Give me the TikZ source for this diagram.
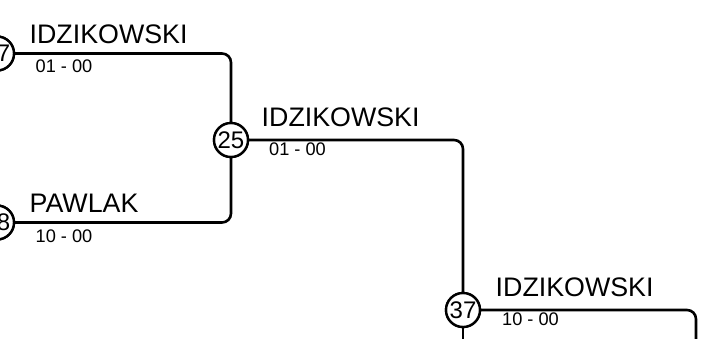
\documentclass[tikz,border=0pt]{standalone}
\usepackage{fontspec}
\setmainfont{Liberation Sans}
\begin{document}
\begin{tikzpicture}[x=1pt,y=-1pt,
  seed/.style={circle,draw,line width=2.4pt,fill=white,minimum size=34pt,inner sep=0pt,font=\fontsize{24}{26}\selectfont},
  link/.style={line width=2.6pt,rounded corners=9pt},
  player/.style={anchor=base west,inner sep=0pt,font=\fontsize{26.8}{30}\selectfont},
  score/.style={anchor=base west,inner sep=0pt,font=\fontsize{18.2}{20}\selectfont}]
\useasboundingbox (0,0) rectangle (715,338);
\node[seed] (c7) at (-3,53.5) {\phantom{0}7};
\node[seed] (c8) at (-3,222.5) {\phantom{0}8};
\node[seed] (c25) at (231,140) {25};
\node[seed] (c37) at (463,310) {37};
\coordinate (outA) at (696,345);
\coordinate (outB) at (463,345);
\draw[link] (c7) -| (c25);
\draw[link] (c8) -| (c25);
\draw[link] (c25) -| (c37);
\draw[link] (c37) -| (outA);
\draw[link] (c37) -- (outB);
\node[seed] at (c7) {\phantom{0}7};
\node[seed] at (c8) {\phantom{0}8};
\node[seed] at (c25) {25};
\node[seed] at (c37) {37};
\node[player] (n7) at (29.5,43) {IDZIKOWSKI};
\node[score] (s7) at (35.5,72) {01 - 00};
\node[player] (n8) at (29.5,212) {PAWLAK};
\node[score] (s8) at (35.5,242) {10 - 00};
\node[player] (n25) at (261.5,126) {IDZIKOWSKI};
\node[score] (s25) at (269,155) {01 - 00};
\node[player] (n37) at (495.5,296) {IDZIKOWSKI};
\node[score] (s37) at (502,325) {10 - 00};
\end{tikzpicture}
\end{document}
